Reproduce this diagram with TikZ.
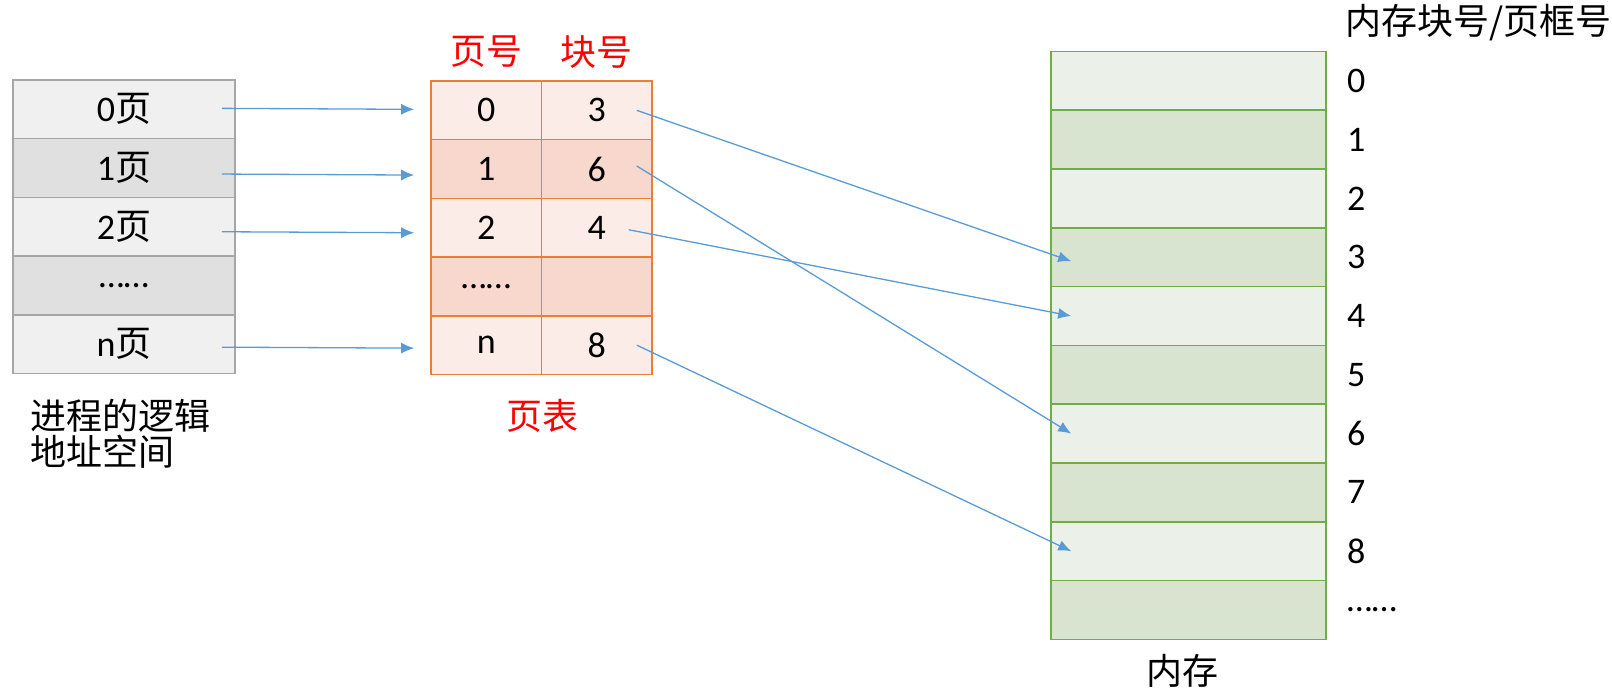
\documentclass[tikz,border=0pt]{standalone}
\usepackage{fontspec}
\setmainfont{Carlito}
\newfontfamily\cjk{Noto Sans CJK SC}
\usetikzlibrary{arrows.meta,positioning}
\definecolor{pgline}{HTML}{A6A6A6}
\definecolor{pgfillA}{HTML}{F0F0F0}
\definecolor{pgfillB}{HTML}{E0E0E0}
\definecolor{tbline}{HTML}{ED7D31}
\definecolor{tbfillA}{HTML}{FBECE7}
\definecolor{tbfillB}{HTML}{F8D8CC}
\definecolor{memline}{HTML}{70AD47}
\definecolor{memfillA}{HTML}{EBF0E8}
\definecolor{memfillB}{HTML}{D8E4CF}
\definecolor{maplink}{HTML}{5B9BD5}

\begin{document}
\begin{tikzpicture}[x=1pt,y=-1pt,
    every node/.style={font=\fontsize{36}{36}\selectfont},
    pagecell/.style={draw=pgline,line width=1.6pt,minimum width=222pt,minimum height=58.7pt,inner sep=0pt},
    tabcell/.style={draw=tbline,line width=1.6pt,minimum width=110.5pt,minimum height=58.7pt,inner sep=0pt},
    memcell/.style={draw=memline,line width=1.6pt,minimum width=275pt,minimum height=58.8pt,inner sep=0pt},
    redlabel/.style={text=red,font=\fontsize{36}{36}\selectfont\cjk},
    maparrow/.style={draw=maplink,line width=1.3pt,-{Latex[length=13pt,width=11pt]}}]
  \useasboundingbox (0,0) rectangle (1612,698);
  %% logical address space
  \foreach \txt/\fc [count=\r from 0] in {{0\cjk 页}/pgfillA,{1\cjk 页}/pgfillB,{2\cjk 页}/pgfillA,{……}/pgfillB,{n\cjk 页}/pgfillA}
    \node[pagecell,fill=\fc] (l\r) at (124,{109.35+58.7*\r}) {\txt};
  \node[anchor=north west,align=left,inner sep=0pt,font=\fontsize{36}{36}\selectfont\cjk] (lspace)
    at ([xshift=18pt,yshift=-25pt]l4.south west) {进程的逻辑\\地址空间};
  %% page table
  \foreach \pn/\bn/\fc [count=\r from 0] in {0/3/tbfillA,1/6/tbfillB,2/4/tbfillA,{……}/{}/tbfillB,n/8/tbfillA}{
    \node[tabcell,fill=\fc] (p\r) at (486.25,{110.35+58.7*\r}) {\pn};
    \node[tabcell,fill=\fc] (b\r) at (596.75,{110.35+58.7*\r}) {\bn};
  }
  \node[redlabel] (pnohead) at ([yshift=28.5pt]p0.north) {页号};
  \node[redlabel] (bnohead) at ([yshift=28.5pt]b0.north) {块号};
  \node[redlabel] (ptab) at ([yshift=-41pt]p4.south east) {页表};
  %% memory
  \foreach \r in {0,...,9}{
    \ifodd\r \def\fc{memfillB}\else \def\fc{memfillA}\fi
    \node[memcell,fill=\fc] (m\r) at (1188.5,{80.8+58.8*\r}) {};
  }
  \foreach \r in {0,...,8}
    \node[anchor=west,inner sep=0pt] (n\r) at ([xshift=20pt]m\r.east) {\r};
  \node[anchor=west,inner sep=0pt] (n9) at ([xshift=20pt]m9.east) {……};
  \node[anchor=west,inner sep=0pt,font=\fontsize{36}{36}\selectfont\cjk] (memhead) at (1345,23) {内存块号/页框号};
  \node[font=\fontsize{36}{36}\selectfont\cjk] (mem) at ([xshift=-6pt,yshift=-31pt]m9.south) {内存};
  %% arrows
  \foreach \r/\dy in {0/1,1/-6,2/-5,4/-3}
    \draw[maparrow] ([xshift=-14pt,yshift=\dy pt]l\r.east) -- ([xshift=-16pt,yshift=\dy pt]p\r.west);
  \draw[maparrow] ([xshift=-16pt]b0.east) -- ([xshift=21pt,yshift=-4pt]m3.west);
  \draw[maparrow] ([xshift=-16pt,yshift=3pt]b1.east) -- ([xshift=21pt]m6.west);
  \draw[maparrow] ([xshift=-24pt,yshift=-2pt]b2.east) -- ([xshift=21pt]m4.west);
  \draw[maparrow] ([xshift=-16pt]b4.east) -- ([xshift=21pt]m8.west);
\end{tikzpicture}
\end{document}
